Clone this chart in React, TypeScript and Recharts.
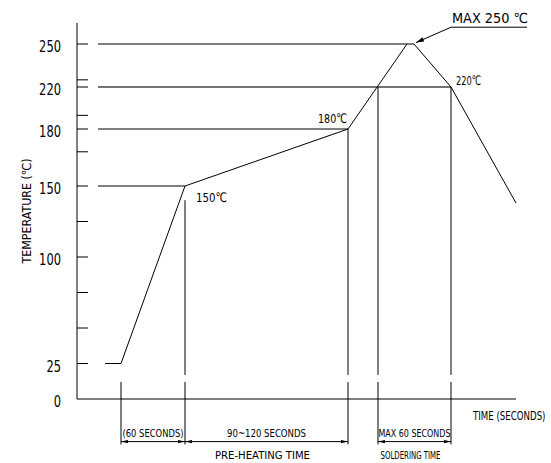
import React from "react";
import { LineChart, Line, XAxis, YAxis, ReferenceLine } from "recharts";

// Reflow profile. Time is in drawing units (the sketch is not to scale).
const profileTime = [28, 44, 108, 271, 330, 337, 374, 439];
const profileTemp = [25, 25, 150, 180, 250, 250, 220, 138];

const tempTicks = [0, 25, 50, 75, 100, 125, 150, 168, 180, 193, 220, 225, 250];
const tempLabels = [0, 25, 100, 150, 180, 220, 250];

// horizontal guide lines and the time where each meets the curve
const levelTemp = [150, 180, 220, 250];
const levelEnd = [108, 271, 374, 330];
const levelText = ["150℃", "180℃", "220℃", ""];

// vertical drop lines from the curve down to the axis
const dropTime = [108, 271, 301, 374];
const dropFrom = [140, 180, 220, 220];

// spans marked below the time axis
const spanStart = [44, 108, 301];
const spanEnd = [108, 271, 374];
const spanText = ["(60 SECONDS)", "90~120 SECONDS", "MAX 60 SECONDS"];
const spanName = ["", "PRE-HEATING TIME", "SOLDERING TIME"];
const extTime = [44, 108, 271, 301, 374];

// the temperature axis is drawn piecewise: these temperatures sit at these heights
const scaleTemp = [0, 150, 180, 220, 250, 265];
const scaleHeight = [0, 213, 270, 312, 355, 376];

const font = "'DejaVu Sans', sans-serif";

// the drawing uses a narrow CAD font, so texts are squeezed to the widths seen there
const textWidth: Record<string, number> = {
  "150℃": 31,
  "180℃": 29,
  "220℃": 25,
  "MAX 250 ℃": 76,
  "(60 SECONDS)": 61,
  "90~120 SECONDS": 79,
  "MAX 60 SECONDS": 72,
  "PRE-HEATING TIME": 95,
  "SOLDERING TIME": 60,
  "TEMPERATURE (℃)": 105,
};

function T({ text, x, y, size, anchor = "start", width, transform }: any) {
  const w = width ?? textWidth[text];
  return (
    <text
      x={x}
      y={y}
      fontSize={size}
      fontFamily={font}
      fill="#000"
      textAnchor={anchor}
      transform={transform}
      textLength={w}
      lengthAdjust="spacingAndGlyphs"
    >
      {text}
    </text>
  );
}

function sketch(v: number) {
  let i = 1;
  while (i < scaleTemp.length - 1 && v > scaleTemp[i]) i++;
  const t = (v - scaleTemp[i - 1]) / (scaleTemp[i] - scaleTemp[i - 1]);
  return scaleHeight[i - 1] + t * (scaleHeight[i] - scaleHeight[i - 1]);
}

function sketchScale(dom: number[] = [0, 265], rng: number[] = [0, 1]): any {
  const s: any = (v: number) => {
    const lo = sketch(dom[0]);
    const hi = sketch(dom[dom.length - 1]);
    return rng[0] + ((sketch(v) - lo) / (hi - lo)) * (rng[rng.length - 1] - rng[0]);
  };
  s.domain = (d?: number[]) => {
    if (!d) return dom.slice();
    dom = d.map(Number);
    return s;
  };
  s.range = (r?: number[]) => {
    if (!r) return rng.slice();
    rng = r.map(Number);
    return s;
  };
  s.copy = () => sketchScale(dom.slice(), rng.slice());
  s.ticks = () => tempTicks;
  s.tickFormat = () => (v: number) => String(v);
  return s;
}

const profile = profileTime.map((t, i) => ({ time: t, temp: profileTemp[i] }));

function arrow(tx: number, ty: number, fx: number, fy: number, len = 7, half = 1.6) {
  const d = Math.hypot(tx - fx, ty - fy) || 1;
  const ux = (tx - fx) / d;
  const uy = (ty - fy) / d;
  const bx = tx - ux * len;
  const by = ty - uy * len;
  return `M${tx},${ty} L${bx - uy * half},${by + ux * half} L${bx + uy * half},${by - ux * half} Z`;
}

const SpanShape = (p: any) => (
  <g>
    <line x1={p.x1} y1={p.y1} x2={p.x2} y2={p.y2} stroke="#000" strokeWidth={1} />
    <path d={arrow(p.x1, p.y1, p.x2, p.y2)} fill="#000" />
    <path d={arrow(p.x2, p.y2, p.x1, p.y1)} fill="#000" />
  </g>
);

const LeaderShape = (p: any) => (
  <g>
    <line x1={p.x1} y1={p.y1} x2={p.x2} y2={p.y2} stroke="#000" strokeWidth={1} />
    <path d={arrow(p.x2, p.y2, p.x1, p.y1, 8, 2.2)} fill="#000" />
  </g>
);

function TempTick({ x, y, payload }: any) {
  const v = payload.value;
  const label = String(v);
  return (
    <g>
      {v !== 0 && <line x1={x} y1={y} x2={x + 11} y2={y} stroke="#000" strokeWidth={1} />}
      {tempLabels.includes(v) && (
        <T text={label} x={x - 16} y={y + 8} size={16} anchor="end" width={label.length * 7.3} />
      )}
    </g>
  );
}

const levelLabel = (i: number) => ({ viewBox }: any) => {
  const end = viewBox.x + viewBox.width;
  if (i === 0) return <T text={levelText[i]} x={end + 11} y={viewBox.y + 16} size={13} />;
  if (i === 1) return <T text={levelText[i]} x={end - 1} y={viewBox.y - 6} size={13} anchor="end" />;
  return <T text={levelText[i]} x={end + 5} y={viewBox.y - 2} size={13} />;
};

const spanLabel = (i: number) => ({ viewBox }: any) => {
  const cx = viewBox.x + viewBox.width / 2;
  return (
    <g>
      <T text={spanText[i]} x={cx} y={viewBox.y - 5} size={11} anchor="middle" />
      {spanName[i] && <T text={spanName[i]} x={cx - 4} y={viewBox.y + 17} size={11} anchor="middle" />}
    </g>
  );
};

const maxLabel = ({ viewBox }: any) => (
  <T text="MAX 250 ℃" x={viewBox.x + 1} y={viewBox.y - 4} size={14} />
);

// squeezed with a transform so that its box stays inside the picture
const timeTitle = ({ viewBox }: any) => (
  <g transform={`translate(${viewBox.x + viewBox.width - 43} ${viewBox.y + 21}) scale(0.72 1)`}>
    <text x={0} y={0} fontSize={12} fontFamily={font} fill="#000">
      TIME (SECONDS)
    </text>
  </g>
);

const tempTitle = ({ viewBox }: any) => {
  const x = viewBox.x + 31;
  const y = viewBox.y + viewBox.height / 2;
  return <T text="TEMPERATURE (℃)" x={x} y={y} size={12.5} anchor="middle" transform={`rotate(-90 ${x} ${y})`} />;
};

export default function App() {
  return (
    <div style={{ position: "absolute", left: 0, top: 0, width: 551, height: 463, background: "#fff" }}>
      <LineChart width={551} height={463} data={profile} margin={{ top: 23, right: 35, bottom: 0, left: 0 }}>
        <XAxis
          dataKey="time"
          type="number"
          domain={[0, 439]}
          height={64}
          tick={false}
          tickLine={false}
          axisLine={{ stroke: "#000", strokeWidth: 1 }}
          label={{ content: timeTitle }}
        />
        <YAxis
          type="number"
          domain={[0, 265]}
          scale={sketchScale()}
          ticks={tempTicks}
          interval={0}
          width={77}
          tickSize={0}
          tickMargin={0}
          tickLine={false}
          tick={<TempTick />}
          axisLine={{ stroke: "#000", strokeWidth: 1 }}
          label={{ content: tempTitle }}
        />

        {levelTemp.map((t, i) => (
          <ReferenceLine
            key={"lv" + t}
            segment={[{ x: 21, y: t }, { x: levelEnd[i], y: t }]}
            stroke={t === 220 ? "#444" : "#000"}
            strokeWidth={t === 220 ? 1.4 : 1}
            ifOverflow="visible"
            label={levelText[i] ? { content: levelLabel(i) } : undefined}
          />
        ))}

        {dropTime.map((t, i) => (
          <ReferenceLine
            key={"dr" + t}
            segment={[{ x: t, y: dropFrom[i] }, { x: t, y: 17 }]}
            stroke="#000"
            ifOverflow="visible"
          />
        ))}

        {extTime.map((t) => (
          <ReferenceLine
            key={"ex" + t}
            segment={[{ x: t, y: 12 }, { x: t, y: -32 }]}
            stroke="#000"
            ifOverflow="visible"
          />
        ))}

        {spanStart.map((t, i) => (
          <ReferenceLine
            key={"sp" + t}
            segment={[{ x: t, y: -30 }, { x: spanEnd[i], y: -30 }]}
            stroke="#000"
            ifOverflow="visible"
            shape={SpanShape}
            label={{ content: spanLabel(i) }}
          />
        ))}

        <ReferenceLine
          segment={[{ x: 374, y: 262 }, { x: 339, y: 251 }]}
          stroke="#000"
          ifOverflow="visible"
          shape={LeaderShape}
        />
        <ReferenceLine
          segment={[{ x: 374, y: 262 }, { x: 450, y: 262 }]}
          stroke="#000"
          ifOverflow="visible"
          label={{ content: maxLabel }}
        />

        <Line
          type="linear"
          dataKey="temp"
          stroke="#000"
          strokeWidth={1}
          dot={false}
          activeDot={false}
          isAnimationActive={false}
        />
      </LineChart>
    </div>
  );
}
